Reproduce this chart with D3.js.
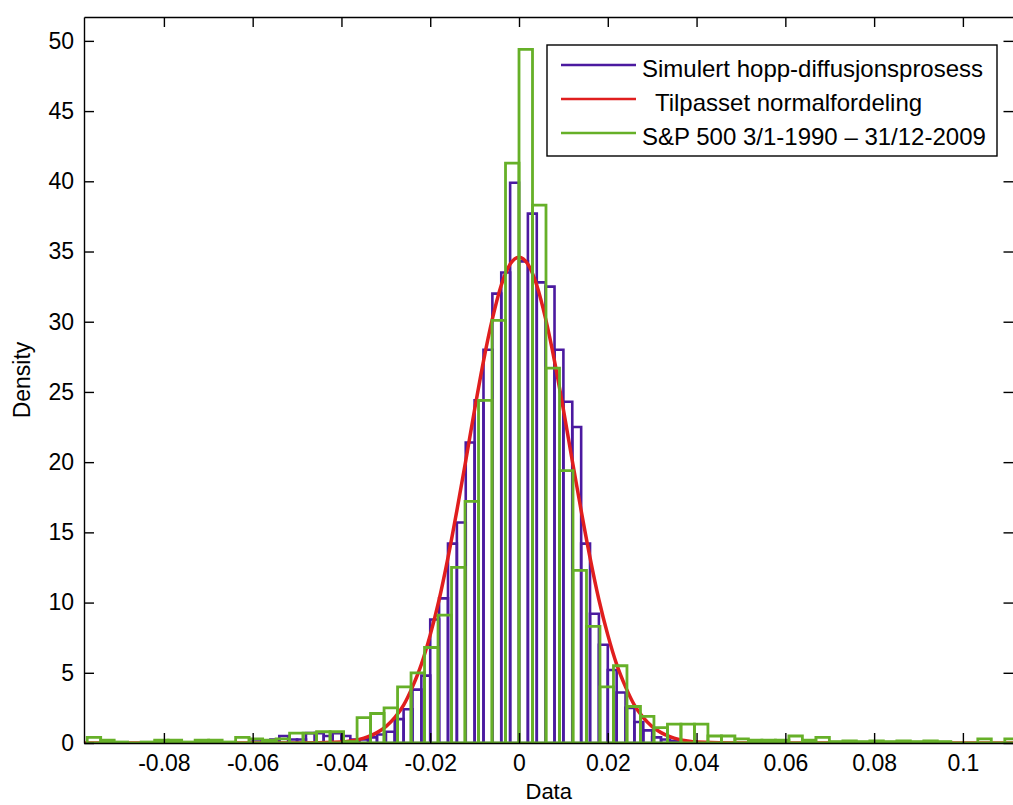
<!DOCTYPE html>
<html>
<head>
<meta charset="utf-8">
<title>Histogram</title>
<style>
body{margin:0;background:#fff;}
text{font-family:"Liberation Sans",Arial,sans-serif;fill:#000;}
</style>
<script src="https://cdn.jsdelivr.net/npm/d3@7"></script>
</head>
<body>
<svg width="1013" height="805"></svg>
<script>
// axis limits and ticks
var xLimits = [-0.098, 0.1114];
var yLimits = [0, 51.7];
var xTicks = [-0.08, -0.06, -0.04, -0.02, 0, 0.02, 0.04, 0.06, 0.08, 0.1];
var xTickLabels = ["-0.08", "-0.06", "-0.04", "-0.02", "0", "0.02", "0.04", "0.06", "0.08", "0.1"];
var yTicks = [0, 5, 10, 15, 20, 25, 30, 35, 40, 45, 50];

// simulated jump-diffusion histogram (bins of 0.002 starting at -0.06)
var simBinStart = -0.06, simBinWidth = 0.002;
var simDensity = [0.25, 0, 0.25, 0.5, 0.25, 0.25, 0.7, 0.7, 0.5, 0.7,
                  0.5, 0.25, 0.25, 0.4, 0.6, 0.8, 1.7, 2.4, 3.8, 4.8,
                  8.8, 10.3, 14.2, 15.7, 21.4, 24.4, 28.0, 32.0, 33.5, 39.9,
                  34.3, 37.7, 32.8, 32.5, 28.0, 24.3, 22.5, 14.2, 9.2, 7.0,
                  5.2, 3.6, 2.5, 1.5, 0.9, 0.4, 0.25, 0.15, 0, 0.1];

// S&P 500 histogram (bins of 0.00304 starting at -0.09728)
var spBinStart = -0.09728, spBinWidth = 0.00304;
var spDensity = [0.4, 0.2, 0.07, 0, 0.07, 0.2, 0.2, 0.07, 0.2, 0.2,
                 0.07, 0.4, 0.3, 0.2, 0.3, 0.7, 0.7, 0.8, 0.8, 0.1,
                 1.8, 2.1, 2.5, 4.0, 5.0, 6.8, 9.1, 12.5, 17.2, 24.4,
                 30.1, 41.3, 49.4, 38.3, 26.7, 19.4, 12.3, 8.3, 4.0, 5.5,
                 2.6, 1.9, 1.1, 1.35, 1.35, 1.35, 0.5, 0.5, 0.3, 0.2,
                 0.2, 0.2, 0.5, 0.2, 0.4, 0.1, 0.15, 0.1, 0.15, 0.1,
                 0.15, 0.1, 0.15, 0.1, 0, 0, 0.3, 0, 0.3];

// fitted normal curve
var fitX = [-0.098, -0.05, -0.04, -0.038, -0.036, -0.034, -0.032, -0.03, -0.028, -0.026, -0.024,
            -0.022, -0.02, -0.018, -0.016, -0.014, -0.012, -0.01, -0.008, -0.006, -0.004, -0.002,
            0, 0.002, 0.004, 0.006, 0.008, 0.01, 0.012, 0.014, 0.016, 0.018, 0.02, 0.022,
            0.024, 0.026, 0.028, 0.03, 0.032, 0.034, 0.036, 0.038, 0.04, 0.05, 0.1114];
var fitY = [0, 0, 0.08, 0.15, 0.26, 0.45, 0.74, 1.17, 1.8, 2.7, 4.0,
            5.6, 7.7, 10.2, 13.2, 16.55, 20.1, 23.75, 27.2, 30.2, 32.6, 34.1,
            34.6, 34.1, 32.6, 30.2, 27.2, 23.75, 20.1, 16.55, 13.2, 10.2, 7.7, 5.6,
            4.0, 2.7, 1.8, 1.17, 0.74, 0.45, 0.26, 0.15, 0.08, 0, 0];

var legendLabels = ["Simulert hopp-diffusjonsprosess", "  Tilpasset normalfordeling", "S&P 500 3/1-1990 \u2013 31/12-2009"];
var colors = ["#4b1aa0", "#e01e1e", "#66b028"];

var svg = d3.select("svg"),
    plot = {left: 84, top: 17, right: 1013.5, bottom: 743};

var x = d3.scaleLinear().domain(xLimits).range([plot.left, plot.right]);
var y = d3.scaleLinear().domain(yLimits).range([plot.bottom, plot.top]);

svg.append("defs").append("clipPath").attr("id", "clip")
    .append("rect")
    .attr("x", plot.left).attr("y", plot.top)
    .attr("width", plot.right - plot.left).attr("height", plot.bottom - plot.top);

var g = svg.append("g").attr("clip-path", "url(#clip)");

function barPath(start, width) {
    return function(d, i) {
        var x0 = x(start + i * width), x1 = x(start + (i + 1) * width);
        return "M" + x0 + "," + y(0) + "V" + y(d) + "H" + x1 + "V" + y(0) + "Z";
    };
}

//simulated histogram
g.append("g").selectAll("path")
    .data(simDensity)
    .enter().append("path")
    .attr("d", barPath(simBinStart, simBinWidth))
    .attr("fill", "none")
    .attr("stroke", colors[0])
    .attr("stroke-width", 2.6);

//normal fit
var line = d3.line()
    .x(function(d) { return x(d[0]); })
    .y(function(d) { return y(d[1]); })
    .curve(d3.curveMonotoneX);
g.append("path")
    .datum(fitX.map(function(v, i) { return [v, fitY[i]]; }))
    .attr("d", line)
    .attr("fill", "none")
    .attr("stroke", colors[1])
    .attr("stroke-width", 3.5);

//S&P histogram
g.append("g").selectAll("path")
    .data(spDensity)
    .enter().append("path")
    .attr("d", barPath(spBinStart, spBinWidth))
    .attr("fill", "none")
    .attr("stroke", colors[2])
    .attr("stroke-width", 2.8);

//axes
function styleAxis(sel) {
    sel.attr("font-size", 23).attr("font-family", "Liberation Sans, Arial, sans-serif");
    sel.selectAll("path, line").attr("stroke", "#000").attr("stroke-width", 1.4);
    sel.selectAll("text").attr("fill", "#000");
}
svg.append("g")
    .attr("transform", "translate(0," + plot.bottom + ")")
    .call(d3.axisBottom(x).tickValues(xTicks).tickFormat(function(d, i) { return xTickLabels[i]; })
        .tickSize(-10).tickSizeOuter(0).tickPadding(12))
    .call(styleAxis);
svg.append("g")
    .attr("transform", "translate(0," + plot.top + ")")
    .call(d3.axisTop(x).tickValues(xTicks).tickFormat("").tickSize(-10).tickSizeOuter(0))
    .call(styleAxis);
svg.append("g")
    .attr("transform", "translate(" + plot.left + ",0)")
    .call(d3.axisLeft(y).tickValues(yTicks).tickSize(-10).tickSizeOuter(0).tickPadding(10))
    .call(styleAxis);
svg.append("g")
    .attr("transform", "translate(" + plot.right + ",0)")
    .call(d3.axisRight(y).tickValues(yTicks).tickFormat("").tickSize(-10).tickSizeOuter(0))
    .call(styleAxis);

svg.append("text")
    .attr("x", (plot.left + plot.right) / 2)
    .attr("y", 799)
    .attr("text-anchor", "middle")
    .attr("font-size", 22)
    .text("Data");
svg.append("text")
    .attr("transform", "translate(30," + (plot.top + plot.bottom) / 2 + ") rotate(-90)")
    .attr("text-anchor", "middle")
    .attr("font-size", 23)
    .text("Density");

//legend
var legend = svg.append("g").attr("transform", "translate(547,45)");
legend.append("rect")
    .attr("width", 450).attr("height", 111)
    .attr("fill", "#fff").attr("stroke", "#000").attr("stroke-width", 1.4);
var item = legend.selectAll(".item")
    .data(legendLabels)
    .enter().append("g")
    .attr("class", "item")
    .attr("transform", function(d, i) { return "translate(0," + (20 + i * 34) + ")"; });
item.append("line")
    .attr("x1", 14).attr("x2", 89)
    .attr("stroke", function(d, i) { return colors[i]; })
    .attr("stroke-width", 2.6);
item.append("text")
    .attr("x", 95).attr("y", 11.5)
    .attr("font-size", 24)
    .style("white-space", "pre")
    .text(function(d) { return d; });
</script>
</body>
</html>
